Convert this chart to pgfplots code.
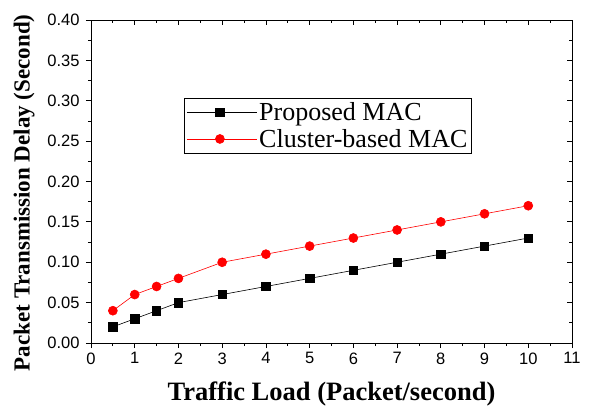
\documentclass[border=0pt]{standalone}
\usepackage{pgfplots}
\pgfplotsset{compat=1.18}
\usepackage{fontspec}
\setmainfont{Liberation Serif}
\newfontfamily\arialfont{Liberation Sans}
\newcommand\tickfont{\arialfont\fontsize{16.5}{18}\selectfont}
\begin{document}
\begin{tikzpicture}[x=1pt,y=1pt]
\path[use as bounding box] (-91,-62) rectangle (504,343);
\begin{axis}[
  at={(0,0)}, anchor=origin,
  scale only axis, width=481pt, height=323pt,
  xmin=0, xmax=11, ymin=0, ymax=0.40,
  axis x line*=bottom, axis y line*=left,
  xtick={0,1,...,11},
  ytick={0,0.05,...,0.401},
  minor x tick num=1, minor y tick num=1,
  tick align=outside,
  major tick length=5pt, minor tick length=3pt,
  tick style={black, line width=0.8pt},
  axis line style={line width=0.9pt},
  xticklabel={\tickfont\pgfmathprintnumber[assume math mode=true]{\tick}},
  yticklabel={\tickfont\pgfmathprintnumber[assume math mode=true,fixed,fixed zerofill,precision=2]{\tick}},
  xticklabel style={yshift=-1pt},
  yticklabel style={xshift=-3pt},
  xlabel={\textbf{Traffic Load (Packet/second)}},
  ylabel={\textbf{Packet Transmission Delay (Second)}},
  xlabel style={font=\fontsize{26.5}{28}\selectfont, at={(rel axis cs:0.5,0)}, anchor=base, yshift=-57pt},
  ylabel style={font=\fontsize{23}{25}\selectfont, at={(ticklabel cs:0.465)}, yshift=6pt},
  legend style={at={(0.194,0.759)}, anchor=north west, draw=black, line width=0.6pt,
    font=\fontsize{26}{28}\selectfont, row sep=3pt, inner xsep=2pt, inner ysep=2.5pt,
    nodes={inner xsep=2pt}},
  legend cell align=left,
  legend image code/.code={
    \path (0pt,0pt) -- (70pt,0pt);
    \draw[#1] (3pt,0pt) -- (60pt,0pt);
    \draw[#1, mark repeat=2, mark phase=2] plot coordinates {(3pt,0pt) (33pt,0pt) (60pt,0pt)};
  },
]
\addplot[black, line width=0.6pt, mark=square*, mark size=4.2pt, mark options={solid}]
coordinates {(0.5,0.02)(1,0.03)(1.5,0.04)(2,0.05)(3,0.06)(4,0.07)(5,0.08)(6,0.09)(7,0.10)(8,0.11)(9,0.12)(10,0.13)};
\addlegendentry{Proposed MAC}
\addplot[red, line width=0.6pt, mark=*, mark size=4.5pt, mark options={solid, fill=red}]
coordinates {(0.5,0.04)(1,0.06)(1.5,0.07)(2,0.08)(3,0.10)(4,0.11)(5,0.12)(6,0.13)(7,0.14)(8,0.15)(9,0.16)(10,0.17)};
\addlegendentry{Cluster-based MAC}
\end{axis}
\begin{axis}[
  at={(0,0)}, anchor=origin,
  scale only axis, width=481pt, height=323pt,
  xmin=0, xmax=11, ymin=0, ymax=0.40,
  axis x line*=top, axis y line*=right,
  xtick={0,1,...,11},
  ytick={0,0.05,...,0.401},
  minor x tick num=1, minor y tick num=1,
  tick align=inside,
  major tick length=5pt, minor tick length=3pt,
  tick style={black, line width=0.8pt},
  axis line style={line width=0.9pt},
  xticklabels={}, yticklabels={},
]
\end{axis}
\end{tikzpicture}
\end{document}
